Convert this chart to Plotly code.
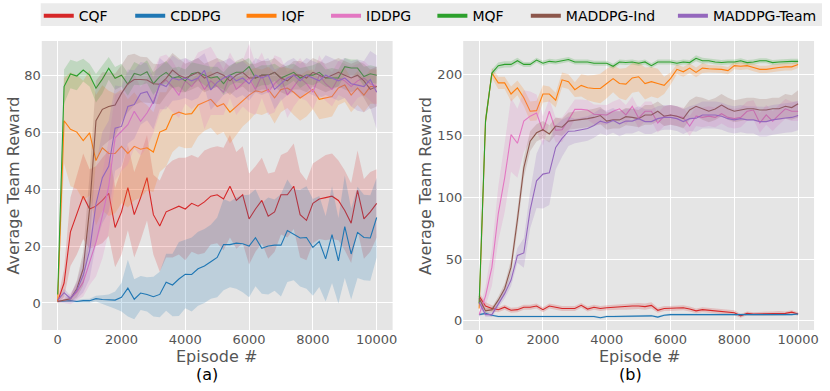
import plotly.graph_objects as go
from plotly.subplots import make_subplots

episodes = list(range(0, 10001, 200))

series_names = ["CQF", "CDDPG", "IQF", "IDDPG", "MQF", "MADDPG-Ind", "MADDPG-Team"]
series_colors = ["#d62728", "#1f77b4", "#ff7f0e", "#e377c2", "#2ca02c", "#8c564b", "#9467bd"]

# ---- panel (a): mean and spread ----
cqf_a = [0.5, 7, 25, 31, 37.5, 33, 34, 36, 38.5, 26.5, 32, 40.5, 31, 37, 44, 31, 27, 32, 33, 34, 33, 35, 34, 35.5,
         37.5, 38, 36.5, 41, 36, 38, 29.5, 33, 36, 30.5, 32, 38, 38, 41, 31, 29, 35, 36.5, 37, 37.5, 36, 32.5, 28,
         39.5, 29.5, 32, 35]
cqf_a_sd = [0.5, 5, 12, 14, 15, 14, 14, 15, 15, 14, 15, 15, 15, 15, 15, 14, 16, 16, 17, 17, 18, 17, 17, 18, 17,
            17, 18, 18, 17, 17, 16, 15, 15, 15, 14, 14, 15, 15, 15, 14, 14, 14, 15, 15, 14, 14, 14, 14, 14, 14, 12]
cddpg_a = [0.5, 0.7, 0.8, 0.5, 0.8, 0.8, 1.5, 1.2, 1.0, 1.0, 2.0, 5.2, 1.3, 3.5, 3.0, 2.2, 3.0, 7.3, 6.3, 8.4,
           10.1, 10.0, 12.0, 13.0, 14.5, 16.0, 20.5, 20.5, 21.0, 20.8, 20.0, 22.9, 19.2, 20.0, 20.3, 20.3, 25.4,
           24.0, 22.8, 23.0, 19.5, 21.6, 15.5, 24.0, 14.8, 26.8, 17.2, 24.8, 23.0, 22.8, 30.0]
cddpg_a_sd = [0.3, 0.5, 0.6, 0.5, 0.6, 0.7, 1, 1.5, 2, 3, 5, 10, 7, 6, 6, 7, 8, 10, 11, 13, 12, 13, 13, 13, 13,
              14, 16, 15, 16, 17, 18, 17, 16, 17, 16, 18, 18, 16, 17, 18, 17, 16, 15, 17, 15, 18, 16, 16, 15, 15, 14]
iqf_a = [0.5, 64, 61, 60, 57, 59.7, 50, 54.5, 52.5, 52.5, 55, 52.5, 55, 54, 54.5, 53, 60, 61, 66, 67, 66.3, 66.5,
         69.5, 70.5, 71.5, 69, 70, 67, 69, 71, 73, 74.5, 74, 75, 72, 75, 75.5, 74, 72, 73.5, 75, 71.5, 72, 72.5,
         75.5, 76.6, 73, 75.5, 73, 76, 76]
iqf_a_sd = [1, 15, 20, 20, 21, 22, 23, 22, 22, 21, 20, 19, 19, 17, 15, 14, 14, 13, 13, 12, 12, 12, 11, 10, 10,
            10, 10, 11, 10, 9, 9, 8, 8, 8, 9, 8, 7, 8, 8, 8, 7, 7, 7, 7, 6, 6, 6, 6, 6, 6, 6]
iddpg_a = [0.5, 1, 1.5, 3.8, 7.3, 14.3, 21.3, 30.6, 41, 58, 60.3, 62.6, 67.3, 63.8, 66.7, 70.7, 76.5, 78.3, 76, 73,
           78, 76, 79, 75, 78, 76, 74, 80, 75, 77, 79, 75, 80, 74, 77, 79, 73, 76, 79, 77, 74, 80, 77, 75, 79, 78,
           76, 78, 79, 77, 76]
iddpg_a_sd = [0.3, 1, 2, 3, 5, 8, 12, 15, 16, 15, 14, 14, 13, 12, 12, 11, 10, 9, 9, 8, 8, 8, 9, 14, 12, 10, 8, 8,
              9, 8, 12, 9, 8, 8, 10, 7, 8, 7, 7, 6, 6, 7, 6, 6, 6, 6, 7, 6, 6, 6, 7]
mqf_a = [3, 76, 80.4, 79.7, 81.8, 80, 75.4, 78.6, 82.4, 78.9, 80, 76.8, 80.6, 80, 81.2, 77, 79.5, 81, 79, 79.5, 78,
         80.5, 81, 80, 79, 79.5, 77, 80, 81, 81, 83, 79, 80, 80, 81, 79, 80, 81, 79, 80, 80, 81, 79, 79, 79, 83,
         82.5, 82.5, 79.5, 80.5, 80]
mqf_a_sd = [1, 6, 5, 5, 4, 4, 5, 5, 4, 4, 4, 4, 4, 3.5, 4, 4, 3.5, 4, 3.5, 3.5, 4, 4, 3, 3.5, 4, 3.5, 4, 3.5, 3.5,
            4, 3, 3.5, 3.5, 3.5, 3, 3.5, 3.5, 3, 3.5, 3, 3.5, 3.5, 3, 3.5, 3, 3, 3, 3, 3.5, 3, 3]
mind_a = [0.5, 1, 1.5, 5, 12, 33, 64, 68, 69, 69.5, 73.6, 77, 78.5, 78.5, 78.3, 77, 76.8, 78.9, 81.8, 80, 79, 80,
          81, 79, 80, 81, 80, 78, 80, 81, 79, 79, 80, 80, 81, 79, 78, 80, 80, 79, 81, 80, 79, 80, 81, 80, 79, 80,
          78, 75, 76]
mind_a_sd = [0.3, 0.5, 1, 3, 6, 12, 14, 13, 12, 11, 10, 10, 9, 8, 8, 7, 7, 6, 6, 6, 5, 5, 5, 5, 5, 5, 5, 5, 5, 5,
             5, 5, 5, 5, 5, 5, 5, 5, 5, 5, 5, 5, 5, 5, 5, 5, 5, 5, 6, 7, 7]
mteam_a = [1, 3.6, 1.5, 4.4, 9.7, 18.4, 34.8, 44, 48, 61.4, 62, 69, 69.7, 73.6, 74.2, 70, 77, 76, 79, 78.3, 79, 78,
           79, 81.7, 74.8, 77.5, 79, 80, 78, 79, 77, 80, 79, 80, 75, 77, 79, 80, 78, 80, 79, 78, 80, 79, 78, 79, 77,
           76.5, 76, 78.5, 74]
mteam_a_sd = [0.5, 1.5, 1, 3, 6, 10, 14, 16, 16, 15, 14, 13, 12, 11, 10, 9, 9, 8, 8, 7, 7, 7, 7, 6, 7, 7, 6, 6, 6,
              6, 6, 6, 6, 6, 7, 6, 6, 6, 6, 6, 6, 6, 7, 7, 7, 7, 8, 9, 9, 10, 13]

# ---- panel (b): mean and spread ----
cqf_b = [20, 12, 10, 9, 11, 8.5, 9, 11, 11, 12, 9, 12, 11, 10, 10, 10, 12.5, 9.5, 11, 10, 10.5, 11, 11, 11.5, 12,
         12, 11.5, 12.5, 8.5, 10, 10, 10, 10.5, 9.5, 8, 9, 8.5, 8.5, 7.5, 7, 6.5, 4, 6, 5.5, 5.5, 5.5, 6, 6, 6, 7,
         5.5]
cqf_b_sd = [3, 3, 2.5, 2, 2, 2, 2, 2, 2, 2, 2, 2, 2, 2, 2, 2, 2, 2, 2, 2, 2, 2, 2, 2.5, 2.5, 2.5, 2.5, 2.5, 2, 2,
            2, 2, 2, 2, 2, 2, 2, 2, 2, 2, 2, 1.5, 1.5, 1.5, 1.5, 1.5, 1.5, 2, 1.5, 1.5, 1.5]
cddpg_b = [5, 6, 4.5, 3.5, 3.5, 3.5, 3.5, 3.5, 3.5, 3.5, 3.5, 3.5, 3.5, 3.5, 4, 3.5, 3.5, 3.5, 3.5, 2.5, 3.5, 3.5,
           3.5, 3.5, 3.5, 3.5, 3.5, 4, 3, 4.5, 5, 5, 4.5, 4.5, 4.5, 5, 5, 4.5, 5, 5, 4.5, 4.5, 4.5, 4.5, 5, 5, 5,
           4.5, 5, 5, 5.5]
cddpg_b_sd = [1, 1, 0.8, 0.8, 0.8, 0.8, 0.8, 0.8, 0.8, 0.8, 0.8, 0.8, 0.8, 0.8, 0.8, 0.8, 0.8, 0.8, 0.8, 0.8, 0.8,
              0.8, 0.8, 0.8, 0.8, 0.8, 0.8, 0.8, 0.8, 0.8, 0.8, 0.8, 0.8, 0.8, 0.8, 0.8, 0.8, 0.8, 0.8, 0.8, 0.8,
              0.8, 0.8, 0.8, 0.8, 0.8, 0.8, 0.8, 0.8, 0.8, 0.8]
iqf_b = [10, 162, 201, 193, 193, 184, 189, 181, 170, 170.5, 184, 184, 179, 195.5, 194, 187.5, 191, 189, 188.5,
         188.5, 192.5, 196.5, 192.5, 192, 197, 198, 192.5, 194, 192.5, 191, 196.5, 204, 202, 205, 201.5, 205,
         204.5, 204.5, 204, 203, 207, 206.5, 207, 205.5, 204, 204, 205, 205.5, 206, 206, 208]
iqf_b_sd = [3, 5, 4, 5, 5, 6, 6, 7, 8, 8, 7, 6, 6, 6, 6, 6, 9, 10, 11, 12, 12, 11, 12, 13, 12, 12, 13, 12, 12, 7,
            5, 4, 4, 4, 4, 4, 3, 3, 3, 3, 3, 3, 3, 3, 3, 3, 3, 3, 3, 3, 3]
iddpg_b = [5, 20, 43.5, 87, 116, 151, 144, 162, 166, 168.5, 154, 170, 154.6, 155, 163, 171.5, 171.5, 171, 167.5,
           167, 167, 170, 172, 167, 174, 164.5, 170, 170, 160.5, 166, 167, 166, 165, 158, 166, 165, 166, 165, 168,
           165, 164, 165, 170, 171, 160.5, 167, 162, 167, 172, 170, 170]
iddpg_b_sd = [3, 8, 15, 22, 28, 30, 28, 25, 20, 15, 12, 10, 10, 10, 9, 8, 8, 8, 8, 8, 8, 8, 8, 8, 8, 8, 8, 8, 8,
              8, 8, 8, 8, 8, 8, 8, 8, 8, 8, 8, 8, 8, 8, 8, 8, 8, 8, 8, 8, 8, 8]
mqf_b = [14, 162, 201, 207, 208, 208, 211, 208, 208, 211.5, 209, 210.5, 210, 211, 212, 210, 210, 210, 209, 209,
         209, 206.5, 210, 209.5, 210, 209, 210, 207, 210, 210, 210, 209, 210, 209.5, 213, 211, 211, 210, 209.5,
         210, 210, 211, 209.5, 210, 211, 211, 209.5, 210, 210.5, 210.5, 210.5]
mqf_b_sd = [3, 5, 3, 2.5, 2.5, 2.5, 2.5, 2, 2, 2, 2, 2, 2, 2, 2, 2, 2, 2, 2, 2, 2, 2, 2, 2, 2, 2, 2, 2, 2, 2, 2,
            2, 2, 2, 2.5, 2.5, 2, 2, 2, 2, 2, 2, 2, 2, 2, 2, 2, 2, 2, 2, 2]
mind_b = [18, 8, 9, 16.7, 26, 43.5, 82, 124, 145.7, 152.5, 155, 151.6, 158, 157, 162, 162.6, 163, 164, 165, 166.5,
          162, 163, 163, 165.6, 165, 164, 167, 167, 170, 166, 167, 166, 164, 171, 174, 172, 170, 171.8, 175, 172,
          170, 171, 172, 172, 171, 171, 172, 172, 174, 173, 176]
mind_b_sd = [3, 2, 2, 3, 4, 6, 8, 8, 8, 7, 7, 7, 7, 7, 7, 7, 7, 7, 7, 7, 7, 7, 7, 7, 7, 7, 8, 8, 8, 8, 8, 8, 8, 8,
             8, 9, 9, 9, 9, 9, 9, 9, 9, 9, 9, 9, 9, 9, 10, 10, 11]
mteam_b = [15, 5, 5, 13, 22, 33, 53, 55, 90, 113.5, 119, 120, 140.7, 148, 153.8, 154, 155, 156, 158.5, 162, 160.5,
           162.6, 159.8, 162, 162, 164, 161.6, 161.6, 164, 165, 165, 164, 161.6, 164, 164.4, 167, 167, 167, 166,
           164, 163, 164, 163, 163, 161.6, 161.6, 163, 164, 164.5, 165, 166.6]
mteam_b_sd = [3, 2, 2, 3, 4, 5, 6, 12, 15, 22, 28, 26, 18, 15, 12, 10, 10, 10, 10, 10, 10, 10, 10, 10, 10, 10, 10,
              10, 10, 10, 10, 10, 10, 10, 11, 11, 11, 11, 11, 11, 11, 11, 11, 11, 12, 12, 12, 12, 12, 12, 12]

panel_a = [(cqf_a, cqf_a_sd), (cddpg_a, cddpg_a_sd), (iqf_a, iqf_a_sd), (iddpg_a, iddpg_a_sd),
           (mqf_a, mqf_a_sd), (mind_a, mind_a_sd), (mteam_a, mteam_a_sd)]
panel_b = [(cqf_b, cqf_b_sd), (cddpg_b, cddpg_b_sd), (iqf_b, iqf_b_sd), (iddpg_b, iddpg_b_sd),
           (mqf_b, mqf_b_sd), (mind_b, mind_b_sd), (mteam_b, mteam_b_sd)]

# left edge (px) of each legend swatch in the top legend row
legend_px = [45, 137, 249, 334, 441, 535, 683]

W, H = 830, 391
T, B = 40, 61
PH = H - T - B


def rgba(hex_color, a):
    h = hex_color.lstrip('#')
    r, g, b = int(h[0:2], 16), int(h[2:4], 16), int(h[4:6], 16)
    return f'rgba({r},{g},{b},{a})'


def py(p):
    # pixel row -> paper y
    return (H - B - p) / PH


def add_panel(fig, data, col):
    for (mean, sd), color in zip(data, series_colors):
        upper = [m + s for m, s in zip(mean, sd)]
        lower = [m - s for m, s in zip(mean, sd)]
        fig.add_trace(go.Scatter(x=episodes, y=upper, mode='lines', line=dict(width=0),
                                 showlegend=False, hoverinfo='skip'), row=1, col=col)
        fig.add_trace(go.Scatter(x=episodes, y=lower, mode='lines', line=dict(width=0),
                                 fill='tonexty', fillcolor=rgba(color, 0.2),
                                 showlegend=False, hoverinfo='skip'), row=1, col=col)
        fig.add_trace(go.Scatter(x=episodes, y=mean, mode='lines', line=dict(color=color, width=1.1),
                                 showlegend=False), row=1, col=col)


def build():
    fig = make_subplots(rows=1, cols=2, horizontal_spacing=0.05)
    add_panel(fig, panel_a, 1)
    add_panel(fig, panel_b, 2)

    # one small legend per entry so each can sit where the reference puts it
    legends = {}
    for i, (name, color) in enumerate(zip(series_names, series_colors)):
        key = 'legend' if i == 0 else f'legend{i + 1}'
        fig.add_trace(go.Scatter(x=[None], y=[None], mode='lines', name=name, legend=key,
                                 line=dict(color=color, width=4)), row=1, col=1)
        legends[key] = dict(orientation='h', x=(legend_px[i] - 6) / W, y=py(-1), xanchor='left', yanchor='top',
                            bgcolor='rgba(0,0,0,0)', font=dict(size=14, color='black'))

    axis_style = dict(showgrid=True, gridcolor='white', gridwidth=1, zeroline=False, showline=False,
                      ticks='', tickfont=dict(family='DejaVu Sans', size=13, color='#555555'))
    xt = [0, 2000, 4000, 6000, 8000, 10000]
    fig.update_xaxes(range=[-500, 10500], tickvals=xt, ticktext=[str(v) for v in xt], **axis_style)
    fig.update_yaxes(**axis_style)
    fig.update_xaxes(domain=[42 / W, 395 / W], row=1, col=1)
    fig.update_xaxes(domain=[466 / W, 819 / W], row=1, col=2)
    fig.update_yaxes(range=[-9.5, 92], tickvals=[0, 20, 40, 60, 80], row=1, col=1)
    fig.update_yaxes(range=[-7.5, 227], tickvals=[0, 50, 100, 150, 200], row=1, col=2)

    title_font = dict(family='DejaVu Sans', size=16, color='#555555')
    label_font = dict(family='DejaVu Sans', size=16, color='black')
    notes = [
        dict(x=14 / W, y=0.5, text='Average Team Reward', textangle=-90, font=title_font),
        dict(x=428 / W, y=0.5, text='Average Team Reward', textangle=-90, font=title_font),
        dict(x=218 / W, y=py(357), text='Episode #', font=title_font),
        dict(x=643 / W, y=py(357), text='Episode #', font=title_font),
        dict(x=208 / W, y=py(375), text='(a)', font=label_font),
        dict(x=634 / W, y=py(375), text='(b)', font=label_font),
    ]
    for n in notes:
        fig.add_annotation(xref='paper', yref='paper', showarrow=False, xanchor='center', yanchor='middle', **n)

    # legend frame
    fig.add_shape(type='rect', xref='paper', yref='paper', x0=41 / W, x1=827 / W, y0=py(25), y1=py(2),
                  fillcolor='#ebebeb', line=dict(width=0), layer='below')

    fig.update_layout(
        width=W, height=H,
        margin=dict(l=0, r=0, t=T, b=B),
        paper_bgcolor='white', plot_bgcolor='#e5e5e5',
        font=dict(family='DejaVu Sans'),
        showlegend=True,
        **legends,
    )
    return fig


if __name__ == "__main__":
    fig = build()
    fig.write_html("out.html", config={'displayModeBar': False},
                   post_script="document.body.style.margin='0';")
